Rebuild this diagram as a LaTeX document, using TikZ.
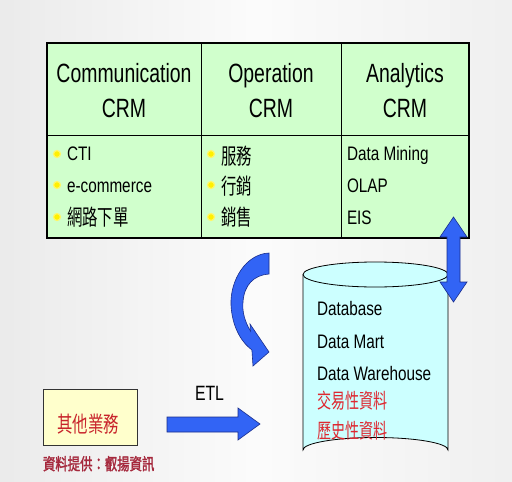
\documentclass[tikz,border=0pt]{standalone}
\usepackage{fontspec}
\setmainfont{Liberation Sans}
\newfontfamily\cjk{Noto Sans CJK TC}
\newfontfamily\cjkb[FakeBold=2]{Noto Sans CJK TC}
\usepackage{graphicx}
\definecolor{tablegreen}{RGB}{208,255,204}
\definecolor{cylcyan}{RGB}{204,255,255}
\definecolor{boxyellow}{RGB}{255,255,204}
\definecolor{arrowblue}{RGB}{50,100,245}
\definecolor{arrowedge}{RGB}{25,45,140}
\definecolor{redtext}{RGB}{222,40,48}
\definecolor{darkred}{RGB}{165,40,60}
\definecolor{bullety}{RGB}{255,240,0}
\newcommand\hdrtxt[1]{\scalebox{0.81}[1.1]{\fontsize{24}{24}\selectfont #1}}
\newcommand\bodytxt[1]{\scalebox{0.9}[1.15]{\fontsize{17}{17}\selectfont #1}}
\newcommand\cjktxt[1]{\scalebox{0.77}[1.1]{\fontsize{20}{20}\selectfont\cjk #1}}
\newcommand\cjksm[1]{\scalebox{0.74}[1.08]{\fontsize{19}{19}\selectfont\cjk #1}}
\begin{document}
\begin{tikzpicture}[x=1pt,y=-1pt,
  txt/.style={inner sep=0pt,outer sep=0pt,anchor=base west},
  hdr/.style={inner sep=0pt,outer sep=0pt,anchor=base},
  bulletdot/.style={circle,fill=bullety,inner sep=0pt,minimum size=7pt,
    draw=yellow!60,line width=1.2pt},
  bluearrow/.style={fill=arrowblue,draw=arrowedge,line width=0.6pt,line join=miter}]
\useasboundingbox (0,0) rectangle (512,482);
% background
\shade[left color=gray!16,right color=gray!12,middle color=gray!3] (0,0) rectangle (512,482);
% table
\fill[tablegreen] (47,43) rectangle (469,238);
\draw[line width=0.8pt] (47,135) -- (469,135);
\draw[line width=0.8pt] (201,43) -- (201,238);
\draw[line width=0.8pt] (341,43) -- (341,238);
\draw[line width=1.8pt] (47,43) rectangle (469,238);
% headers
\node[hdr] (h1a) at (124,82) {\hdrtxt{Communication}};
\node[hdr] (h1b) at (124,117) {\hdrtxt{CRM}};
\node[hdr] (h2a) at (271,82) {\hdrtxt{Operation}};
\node[hdr] (h2b) at (271,117) {\hdrtxt{CRM}};
\node[hdr] (h3a) at (405,82) {\hdrtxt{Analytics}};
\node[hdr] (h3b) at (405,117) {\hdrtxt{CRM}};
% bullets column 1
\node[bulletdot] (b11) at (57,154) {};
\node[bulletdot] (b12) at (57,185) {};
\node[bulletdot] (b13) at (57,217) {};
\node[txt] (t11) at (67,160) {\bodytxt{CTI}};
\node[txt] (t12) at (67,192) {\bodytxt{e-commerce}};
\node[txt] (t13) at (67,225) {\cjktxt{網路下單}};
% column 2
\node[bulletdot] (b21) at (211,154) {};
\node[bulletdot] (b22) at (211,185) {};
\node[bulletdot] (b23) at (211,217) {};
\node[txt] (t21) at (221,164) {\cjktxt{服務}};
\node[txt] (t22) at (221,194) {\cjktxt{行銷}};
\node[txt] (t23) at (221,225) {\cjktxt{銷售}};
% column 3
\node[txt] (t31) at (347,160) {\bodytxt{Data Mining}};
\node[txt] (t32) at (347,192) {\bodytxt{OLAP}};
\node[txt] (t33) at (347,224) {\bodytxt{EIS}};
% cylinder
\coordinate (cyl) at (375.5,362);
\fill[cylcyan] (303,274.5) -- (303,450) arc[start angle=180,end angle=360,x radius=72.5,y radius=12.5] -- (448,274.5) -- cycle;
\draw[line width=0.8pt,fill=cylcyan] (375.5,274.5) ellipse[x radius=72.5,y radius=12.5];
\draw[line width=0.8pt] (303,274.5) -- (303,450) arc[start angle=180,end angle=360,x radius=72.5,y radius=12.5] -- (448,274.5);
\node[txt] (c1) at (317,315) {\bodytxt{Database}};
\node[txt] (c2) at (317,348) {\bodytxt{Data Mart}};
\node[txt] (c3) at (317,380) {\bodytxt{Data Warehouse}};
\node[txt,text=redtext] (c4) at (317,408) {\cjksm{交易性資料}};
\node[txt,text=redtext] (c5) at (317,438) {\cjksm{歷史性資料}};
% double arrow
\draw[bluearrow] (453.5,217) -- (467,237) -- (460,237) -- (460,282) -- (467,282) -- (453.5,302)
  -- (440,282) -- (447,282) -- (447,237) -- (440,237) -- cycle;
% curved arrow
\draw[bluearrow] (269,253) .. controls (246,254) and (230,280) .. (231,305)
  .. controls (232,325) and (240,341) .. (251.9,350) -- (253,366) -- (269,352) -- (250,324)
  -- (250.5,331) .. controls (245,322) and (242,312) .. (243,302)
  .. controls (244,285) and (254,275) .. (269,274) -- cycle;
% other business box
\node[draw=black!80,line width=0.8pt,fill=boxyellow,minimum width=94pt,minimum height=56pt,inner sep=0pt] (other) at (90,417) {};
\node[hdr,text=redtext!90!black] (othert) at (88,432) {\cjktxt{其他業務}};
% ETL arrow
\draw[bluearrow] (167,417) -- (238,417) -- (238,408) -- (260,424) -- (238,440) -- (238,432) -- (167,432) -- cycle;
\node[txt] (etl) at (195,400) {\scalebox{0.88}[1.15]{\fontsize{18}{18}\selectfont ETL}};
% source
\node[txt,text=darkred] (src) at (43,470) {\scalebox{0.75}[1]{\fontsize{16.5}{16.5}\selectfont\cjkb 資料提供：叡揚資訊}};
\end{tikzpicture}
\end{document}
